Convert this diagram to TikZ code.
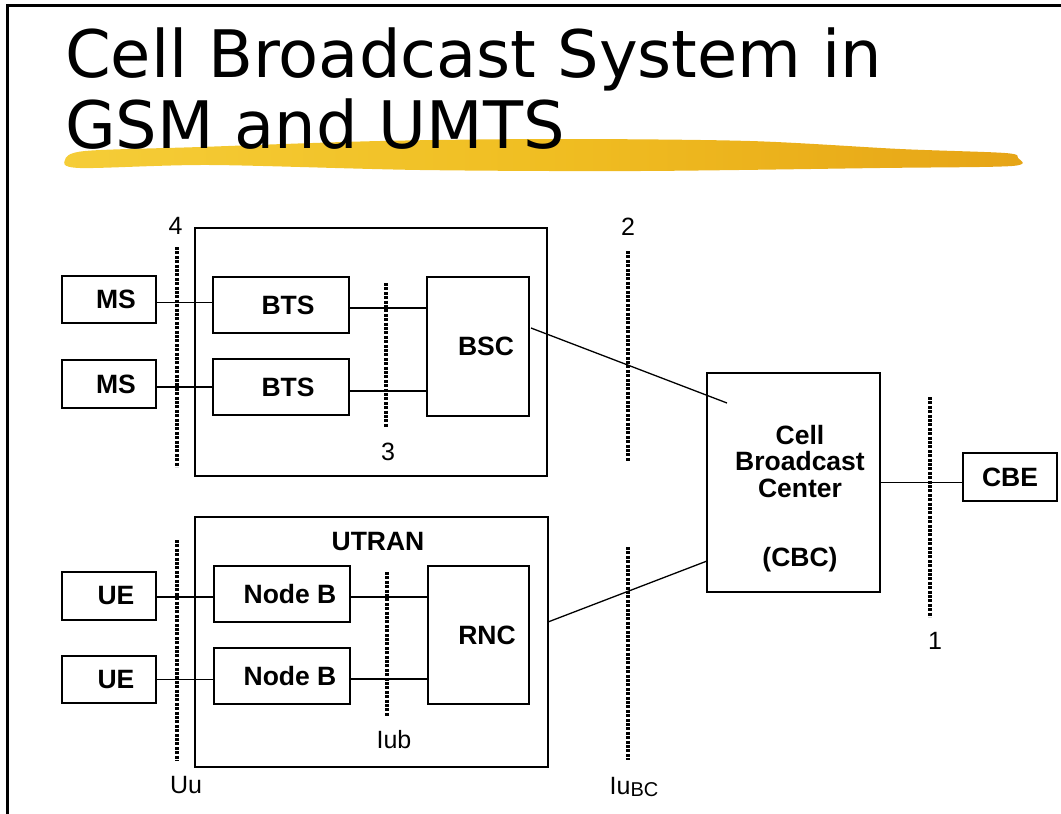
\documentclass[tikz,border=0pt]{standalone}
\usepackage{fontspec}
\setmainfont{Liberation Sans}
\newfontfamily\titlefamily{DejaVu Sans}
\usetikzlibrary{calc}

\definecolor{brushL}{HTML}{F5CD38}
\definecolor{brushM}{HTML}{F0BE22}
\definecolor{brushR}{HTML}{E6A416}

\newcommand\boxfont{\fontsize{26.5}{26.5}\selectfont\bfseries}
\newcommand\lblfont{\fontsize{25}{25}\selectfont}
\newcommand\headfont{\titlefamily\fontsize{65.5}{72}\selectfont}

\tikzset{
  box/.style={draw, line width=1.3, inner sep=0, font=\boxfont},
  grp/.style={draw, line width=1.3, inner sep=0},
  lbl/.style={inner sep=0, font=\lblfont},
  cut/.style={line width=4, dash pattern=on 3 off 1.4},
  wire/.style={line width=1.3},
}

\begin{document}
\begin{tikzpicture}[x=1pt, y=-1pt]
\useasboundingbox (0,0) rectangle (1061,814);

% slide frame
\draw[line width=3] (7,814) -- (7,5.5) -- (1061,5.5);

% highlighter stroke under the heading
\shade[left color=brushL, right color=brushR, middle color=brushM]
  plot[smooth cycle, tension=0.5] coordinates {
    (65,160) (85,151) (200,147) (380,141) (560,139) (750,141)
    (900,149) (1005,153) (1018,158) (1012,166) (880,168) (640,171)
    (420,170) (210,165) (80,168)};

% heading
\node[inner sep=0, anchor=base west, font=\headfont] (head1) at (65,77) {Cell Broadcast System in};
\node[inner sep=0, anchor=base west, font=\headfont] (head2) at (65,148) {GSM and UMTS};

% GSM access network
\node[grp, minimum width=352, minimum height=248] (gsm) at (371,352) {};
\node[box, minimum width=94, minimum height=47] (ms1) at (109,299.5) {\hspace*{14pt}MS};
\node[box, minimum width=94, minimum height=48] (ms2) at (109,384) {\hspace*{14pt}MS};
\node[box, minimum width=136, minimum height=56] (bts1) at (281,305) {\hspace*{14pt}BTS};
\node[box, minimum width=136, minimum height=56] (bts2) at (281,387) {\hspace*{14pt}BTS};
\node[box, minimum width=102, minimum height=139] (bsc) at (478,346.5) {\hspace*{16pt}BSC};

% UMTS access network
\node[grp, minimum width=353, minimum height=250] (utran) at (371.5,642) {};
\node[inner sep=0, font=\boxfont] (utranlbl) at (378,542) {UTRAN};
\node[box, minimum width=94, minimum height=48] (ue1) at (109,596) {\hspace*{14pt}UE};
\node[box, minimum width=94, minimum height=47] (ue2) at (109,679.5) {\hspace*{14pt}UE};
\node[box, minimum width=136, minimum height=56] (nb1) at (282,594) {\hspace*{16pt}Node B};
\node[box, minimum width=136, minimum height=56] (nb2) at (282,676) {\hspace*{16pt}Node B};
\node[box, minimum width=101, minimum height=138] (rnc) at (478.5,635) {\hspace*{17pt}RNC};

% broadcast centre and entity
\node[grp, minimum width=173, minimum height=219] (cbc) at (793.5,482.5) {};
\node[inner sep=0, font=\boxfont, align=center] (cbctxt) at (800,461.5) {Cell\\Broadcast\\Center};
\node[inner sep=0, font=\boxfont, anchor=base] (cbcabbr) at (800,566) {(CBC)};
\node[box, minimum width=94, minimum height=48] (cbe) at (1010,477) {CBE};

% links
\draw[wire] ([yshift=-3.3]ms1.east) -- ([yshift=-3.3]ms1.east -| bts1.west);
\draw[wire] ([yshift=-3]ms2.east) -- ([yshift=-3]ms2.east -| bts2.west);
\draw[wire] ([yshift=-3]bts1.east) -- ([yshift=-3]bts1.east -| bsc.west);
\draw[wire] ([yshift=-4]bts2.east) -- ([yshift=-4]bts2.east -| bsc.west);
\draw[wire] ([yshift=-1]ue1.east) -- ([yshift=-1]ue1.east -| nb1.west);
\draw[wire] (ue2.east) -- (ue2.east -| nb2.west);
\draw[wire] ([yshift=-3]nb1.east) -- ([yshift=-3]nb1.east -| rnc.west);
\draw[wire] ([yshift=-3]nb2.east) -- ([yshift=-3]nb2.east -| rnc.west);
\draw[wire] (cbc.east) -- (cbc.east -| cbe.west);

\coordinate (bscport) at (531,328);
\coordinate (cbcgsm) at (727,403);
\draw[wire] (bscport) -- (cbcgsm);
\coordinate (utranport) at (548,622);
\coordinate (cbcumts) at (707,561);
\draw[wire] (utranport) -- (cbcumts);

% reference points
\draw[cut] (176.5,247) -- (176.5,467);
\draw[cut] (386,283) -- (386,428);
\draw[cut] (628,251) -- (628,461);
\draw[cut] (930,397) -- (930,617);
\draw[cut] (176.5,540) -- (176.5,761);
\draw[cut] (387,572) -- (387,717);
\draw[cut] (628,547) -- (628,760);

\node[lbl] (rp4) at (175.5,225.5) {4};
\node[lbl] (rp2) at (628,227) {2};
\node[lbl] (rp3) at (388,452) {3};
\node[lbl] (rp1) at (935,641) {1};
\node[lbl] (rpuu) at (186,785) {Uu};
\node[lbl] (rpiub) at (394,740) {Iub};
\node[lbl, anchor=base] (rpiu) at (634,794) {Iu{\fontsize{20}{20}\selectfont\raisebox{-2pt}{BC}}};
\end{tikzpicture}
\end{document}
